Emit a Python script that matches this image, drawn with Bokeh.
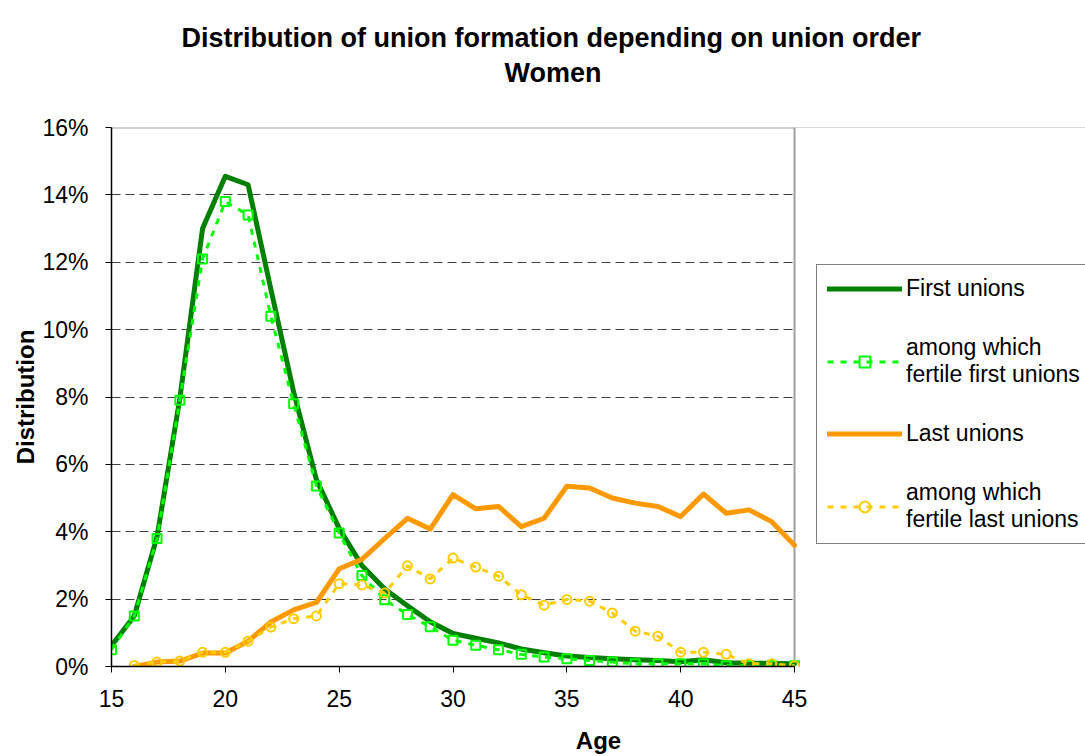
from bokeh.plotting import figure
from bokeh.models import (Range1d, FixedTicker, PrintfTickFormatter, Legend,
                          LegendItem, Title, LinearAxis, BoxAnnotation, Span)
from bokeh.embed import file_html
from bokeh.resources import INLINE

# ---- data (percent) ----
ages_first = [15, 16, 17, 18, 19, 20, 21, 22, 23, 24, 25, 26, 27, 28, 29, 30,
              31, 32, 33, 34, 35, 36, 37, 38, 39, 40, 41, 42, 43, 44, 45]
first_unions = [0.62, 1.5, 3.85, 7.95, 13.0, 14.55, 14.3, 11.2, 8.15, 5.55, 4.1,
                3.0, 2.3, 1.8, 1.33, 0.98, 0.84, 0.7, 0.52, 0.41, 0.31, 0.27,
                0.23, 0.2, 0.18, 0.14, 0.2, 0.11, 0.1, 0.09, 0.08]
fertile_first = [0.5, 1.5, 3.8, 7.9, 12.1, 13.8, 13.4, 10.4, 7.8, 5.36, 3.96,
                 2.7, 1.98, 1.54, 1.18, 0.78, 0.63, 0.5, 0.36, 0.28, 0.23, 0.18,
                 0.13, 0.08, 0.08, 0.08, 0.08, 0.02, 0.03, 0.03, 0.02]
ages_last = [16, 17, 18, 19, 20, 21, 22, 23, 24, 25, 26, 27, 28, 29, 30,
             31, 32, 33, 34, 35, 36, 37, 38, 39, 40, 41, 42, 43, 44, 45]
last_unions = [0.0, 0.13, 0.16, 0.4, 0.4, 0.75, 1.32, 1.68, 1.9, 2.9, 3.18,
               3.8, 4.4, 4.08, 5.1, 4.68, 4.75, 4.15, 4.4, 5.35, 5.3, 5.0,
               4.85, 4.75, 4.45, 5.12, 4.55, 4.65, 4.3, 3.6]
fertile_last = [0.03, 0.13, 0.16, 0.42, 0.42, 0.75, 1.17, 1.42, 1.5, 2.46, 2.42,
                2.18, 2.99, 2.6, 3.22, 2.95, 2.68, 2.13, 1.82, 1.99, 1.94, 1.59,
                1.05, 0.9, 0.42, 0.42, 0.36, 0.08, 0.08, 0.02]
x_ticks = [15, 20, 25, 30, 35, 40, 45]
y_ticks = [0, 2, 4, 6, 8, 10, 12, 14, 16]
x_min, x_max = 15, 45
y_min, y_max = 0, 16

title_line1 = "Distribution of union formation depending on union order"
title_line2 = "Women"
series_names = ["First unions", "among which\nfertile first unions",
                "Last unions", "among which\nfertile last unions"]

FONT = "Liberation Sans"
W, H = 1085, 756
LEFT, TOP, BOTTOM = 111, 127, 89
PLOT_W = 683  # pixel width of the 15..45 plot area
# the frame continues to the right edge (room for the legend); keep the scale
x_view_end = x_max + (W - LEFT - PLOT_W) * (x_max - x_min) / PLOT_W

p = figure(width=W, height=H, output_backend="svg", toolbar_location=None,
           title=None,
           x_range=Range1d(x_min, x_view_end), y_range=Range1d(y_min, y_max),
           min_border_left=LEFT, min_border_right=0,
           min_border_top=TOP, min_border_bottom=BOTTOM,
           background_fill_color="white", border_fill_color="white")
p.outline_line_color = None

p.xgrid.visible = False
p.ygrid.grid_line_color = "#404040"
p.ygrid.grid_line_dash = "9 5"
p.ygrid.grid_line_width = 1

# plot-area border (top and right, grey) and white area right of the plot
p.add_layout(Span(location=y_max, dimension="width", line_color="#A0A0A0",
                  line_width=2, level="underlay"))
p.add_layout(BoxAnnotation(left=x_max, fill_color="white", fill_alpha=1,
                           line_color=None, level="underlay"))
p.add_layout(Span(location=x_max, dimension="height", line_color="#A0A0A0",
                  line_width=2, level="underlay"))

r1 = p.line(ages_first, first_unions, line_color="#008000", line_width=5,
            line_join="round", line_cap="round")
r2l = p.line(ages_first, fertile_first, line_color="#00FF00", line_width=3,
             line_dash="6 7")
r2m = p.scatter(ages_first, fertile_first, marker="square", size=9,
                line_color="#00FF00", line_width=2, fill_color=None)
r3 = p.line(ages_last, last_unions, line_color="#FF9900", line_width=5,
            line_join="round", line_cap="round")
r4l = p.line(ages_last, fertile_last, line_color="#FFCC00", line_width=3,
             line_dash="6 7")
r4m = p.scatter(ages_last, fertile_last, marker="circle", size=9,
                line_color="#FFCC00", line_width=2, fill_color=None)

# axes
p.xaxis.ticker = FixedTicker(ticks=x_ticks)
p.xaxis.bounds = (x_min, x_max)
p.yaxis.ticker = FixedTicker(ticks=y_ticks)
p.yaxis.formatter = PrintfTickFormatter(format="%d%%")
for ax in (p.xaxis[0], p.yaxis[0]):
    ax.major_tick_in = 0
    ax.major_tick_out = 6
    ax.minor_tick_in = 0
    ax.minor_tick_out = 0
    ax.axis_line_color = "black"
    ax.axis_line_width = 1.5
    ax.major_tick_line_color = "black"
    ax.major_label_text_font = FONT
    ax.major_label_text_font_size = "23px"
    ax.major_label_text_color = "black"
    ax.axis_label_text_font = FONT
    ax.axis_label_text_font_size = "24px"
    ax.axis_label_text_font_style = "bold"
    ax.axis_label_text_color = "black"
p.xaxis.axis_label = "Age"
p.yaxis.axis_label = "Distribution"
p.xaxis.major_label_standoff = 17
p.yaxis.major_label_standoff = 17
p.xaxis.axis_label_standoff = 17
p.yaxis.axis_label_standoff = 0

# titles
title_kw = dict(align="left", text_font=FONT, text_font_size="27px",
                text_color="black", text_font_style="bold")
try:
    women = Title(text=title_line2, offset=393, standoff=0,
                  padding=dict(left=0, right=0, top=0, bottom=40), **title_kw)
    use_spacer = False
except Exception:
    women = Title(text=title_line2, offset=393, standoff=2, **title_kw)
    use_spacer = True
if use_spacer:
    spacer = LinearAxis(ticker=FixedTicker(ticks=[x_min]), major_tick_out=37,
                        major_tick_in=0, minor_tick_out=0, minor_tick_in=0,
                        axis_line_color=None, major_tick_line_color="white",
                        minor_tick_line_color=None,
                        major_label_text_color=None)
    p.add_layout(spacer, "above")
p.add_layout(women, "above")
p.add_layout(Title(text=title_line1, offset=70, standoff=6, **title_kw),
             "above")

legend = Legend(items=[
    LegendItem(label=series_names[0], renderers=[r1]),
    LegendItem(label=series_names[1], renderers=[r2l, r2m]),
    LegendItem(label=series_names[2], renderers=[r3]),
    LegendItem(label=series_names[3], renderers=[r4l, r4m]),
], location=(705, 122), orientation="vertical",
    glyph_width=75, glyph_height=27, label_standoff=4, padding=10,
    spacing=32, margin=0,
    border_line_color="black", border_line_width=1,
    background_fill_color="white", background_fill_alpha=1,
    label_text_font=FONT, label_text_font_size="23px",
    label_text_color="black")
p.add_layout(legend)

open("out.html", "w").write(file_html(p, INLINE))
